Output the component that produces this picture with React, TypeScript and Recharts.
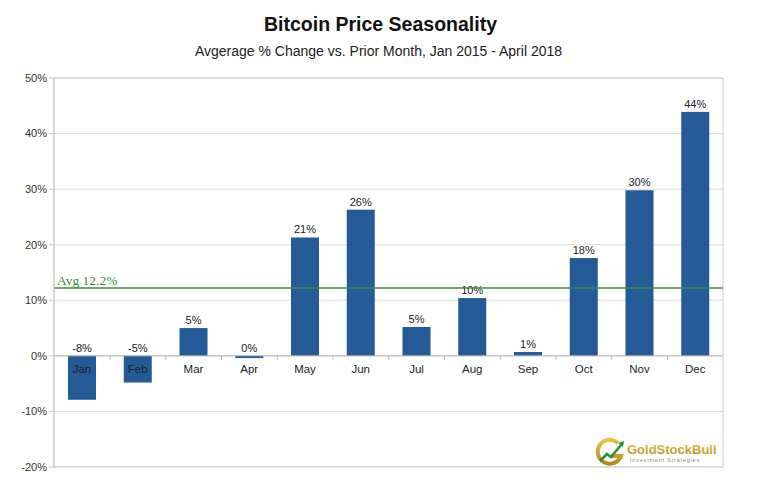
import React from "react";
import {
  BarChart,
  Bar,
  XAxis,
  YAxis,
  CartesianGrid,
  ReferenceLine,
  ReferenceArea,
} from "recharts";

// Average month-over-month % change, Jan 2015 - April 2018
const months = ["Jan", "Feb", "Mar", "Apr", "May", "Jun", "Jul", "Aug", "Sep", "Oct", "Nov", "Dec"];
const changes = [-7.9, -4.8, 5.0, -0.4, 21.3, 26.3, 5.2, 10.4, 0.7, 17.6, 29.8, 43.9];
const yTicks = [-20, -10, 0, 10, 20, 30, 40, 50];
const avgChange = 12.2;

const data = months.map((month, i) => ({ month, change: changes[i] }));

const FONT = "'Liberation Sans', Arial, Helvetica, sans-serif";
const BAR_COLOR = "#245a98";
const AVG_COLOR = "#3f8c3a";

/** Bar plus its value label and the month name under the zero line. */
function MonthBar(props: any) {
  const { x, y, width, height, index } = props;
  const v = changes[index] ?? 0;
  const y0 = Number(y);
  const y1 = Number(y) + Number(height);
  const top = Math.min(y0, y1);
  const bottom = Math.max(y0, y1);
  const zero = v >= 0 ? bottom : top;
  const w = Number(width);
  const cx = Number(x) + w / 2;
  return (
    <g>
      <rect x={Number(x)} y={top} width={w} height={bottom - top} fill={BAR_COLOR} />
      <text x={cx} y={top - 4} textAnchor="middle" fontSize={11} fontFamily={FONT} fill="#222">
        {`${Math.round(v)}%`}
      </text>
      <text x={cx} y={zero + 17} textAnchor="middle" fontSize={11.5} fontFamily={FONT} fill="#222">
        {months[index]}
      </text>
      {index < months.length - 1 && (
        <line x1={cx + w} x2={cx + w} y1={zero} y2={zero + 4} stroke="#b5b5b5" />
      )}
    </g>
  );
}

function Logo() {
  return (
    <svg width={130} height={36} viewBox="0 0 130 36">
      <defs>
        <linearGradient id="gold" x1="0" y1="0" x2="0" y2="1">
          <stop offset="0%" stopColor="#e8c24a" />
          <stop offset="100%" stopColor="#b98a18" />
        </linearGradient>
      </defs>
      <path
        d="M 24 9 A 12 12 0 1 0 27 22 L 17 22"
        fill="none"
        stroke="url(#gold)"
        strokeWidth={4}
      />
      <polyline points="6,27 13,20 17,23 27,11" fill="none" stroke="#2f8f2f" strokeWidth={2.5} />
      <polygon points="24,9 30,7 29,13" fill="#2f8f2f" />
      <text x={33} y={20} fontSize={13} fontFamily={FONT} fontWeight={700} fill="url(#gold)">
        GoldStockBull
      </text>
      <text x={36} y={28} fontSize={5.5} fontFamily={FONT} fill="#888" letterSpacing={0.8}>
        Investment Strategies
      </text>
    </svg>
  );
}

export default function App() {
  return (
    <div
      style={{
        position: "absolute",
        left: 0,
        top: 0,
        width: 757,
        height: 492,
        background: "#fff",
        fontFamily: FONT,
      }}
    >
      <div
        style={{
          position: "absolute",
          top: 13,
          left: 2,
          width: 757,
          textAlign: "center",
          fontSize: 19.5,
          fontWeight: 700,
          color: "#111",
        }}
      >
        Bitcoin Price Seasonality
      </div>
      <div
        style={{
          position: "absolute",
          top: 43,
          left: 0,
          width: 757,
          textAlign: "center",
          fontSize: 14,
          color: "#222",
        }}
      >
        Avgerage % Change vs. Prior Month, Jan 2015 - April 2018
      </div>

      <BarChart
        width={757}
        height={492}
        data={data}
        margin={{ top: 78, right: 34, bottom: 25, left: 0 }}
        barSize={28}
      >
        <CartesianGrid vertical={false} stroke="#dedede" />
        <XAxis dataKey="month" height={0} tick={false} axisLine={false} tickLine={false} />
        <YAxis
          domain={[-20, 50]}
          ticks={yTicks}
          tickFormatter={(v: number) => `${v}%`}
          width={54}
          tickSize={5}
          axisLine={{ stroke: "#c8c8c8" }}
          tickLine={{ stroke: "#c8c8c8" }}
          tick={{ fill: "#333", fontSize: 11, fontFamily: FONT }}
        />
        <ReferenceArea y1={-20} y2={50} fill="none" stroke="#cccccc" />
        <ReferenceLine y={0} stroke="#b5b5b5" />
        <Bar dataKey="change" fill={BAR_COLOR} shape={MonthBar} isAnimationActive={false} />
        <ReferenceLine
          y={avgChange}
          stroke={AVG_COLOR}
          strokeWidth={1.5}
          label={{
            value: `Avg  ${avgChange}%`,
            position: "insideBottomLeft",
            offset: 3,
            fill: AVG_COLOR,
            fontSize: 13.5,
            fontFamily: "'Liberation Serif', 'DejaVu Serif', serif",
          }}
        />
      </BarChart>

      <div style={{ position: "absolute", left: 594, top: 434 }}>
        <Logo />
      </div>
    </div>
  );
}
